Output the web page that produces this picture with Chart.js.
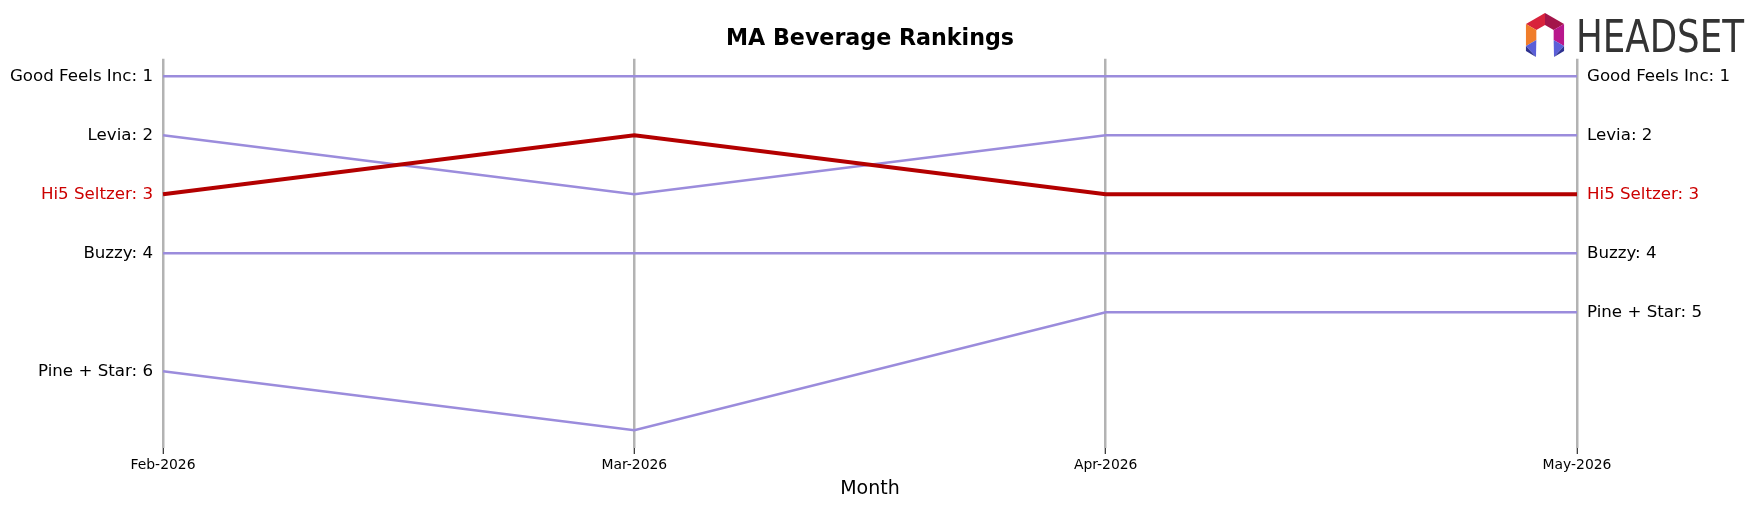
<!DOCTYPE html>
<html lang="en">
<head>
    <meta charset="UTF-8">
    <title>MA Beverage Rankings</title>
    <style>
        html, body { margin: 0; padding: 0; background: #fff; }
        #wrap { width: 1759px; height: 507px; position: relative; }
    </style>
</head>
<body>
    <div id="wrap"><canvas id="rankChart"></canvas></div>

    <script src="https://cdn.jsdelivr.net/npm/chart.js"></script>
    <script>
        // Months on the x axis
        const months = ['Feb-2026', 'Mar-2026', 'Apr-2026', 'May-2026'];

        // Brands and their monthly rank
        const brands = ['Good Feels Inc', 'Levia', 'Hi5 Seltzer', 'Buzzy', 'Pine + Star'];
        const goodFeelsRanks = [1, 1, 1, 1];
        const leviaRanks = [2, 3, 2, 2];
        const hi5Ranks = [3, 2, 3, 3];
        const buzzyRanks = [4, 4, 4, 4];
        const pineStarRanks = [6, 7, 5, 5];
        const rankSeries = [goodFeelsRanks, leviaRanks, hi5Ranks, buzzyRanks, pineStarRanks];

        const highlightBrand = 'Hi5 Seltzer';

        const purple = '#9b8cdc';
        const darkRed = '#b30000';
        const labelRed = '#cc0000';
        const font = "'DejaVu Sans', sans-serif";

        // find brand sitting at a given rank in a given month
        function brandAt(rank, monthIdx) {
            const i = rankSeries.findIndex(s => s[monthIdx] === rank);
            return i < 0 ? '' : brands[i];
        }

        function rankAxis(position, monthIdx, width) {
            return {
                position: position,
                reverse: true,
                min: 0.7,
                max: 7.3,
                grid: { display: false, drawTicks: false },
                border: { display: false },
                afterBuildTicks: (scale) => {
                    scale.ticks = rankSeries.map(s => ({ value: s[monthIdx] }));
                },
                afterFit: (scale) => { scale.width = width; },
                ticks: {
                    padding: 10,
                    font: { family: font, size: 16.67 },
                    color: (ctx) => brandAt(ctx.tick.value, monthIdx) === highlightBrand ? labelRed : '#000',
                    callback: (value) => brandAt(value, monthIdx) + ': ' + value
                }
            };
        }

        // draws the Headset logo top right
        const logoPlugin = {
            id: 'logo',
            afterDraw(chart) {
                const ctx = chart.ctx;
                const cx = 1545, cy = 35, R = 22, r = 10;
                const pt = (a, rad) => [cx + rad * Math.cos(a * Math.PI / 180), cy + rad * Math.sin(a * Math.PI / 180)];
                const quad = (a1, a2, color) => {
                    const p = [pt(a1, R), pt(a2, R), pt(a2, r), pt(a1, r)];
                    ctx.beginPath();
                    ctx.moveTo(p[0][0], p[0][1]);
                    p.slice(1).forEach(q => ctx.lineTo(q[0], q[1]));
                    ctx.closePath();
                    ctx.fillStyle = color;
                    ctx.fill();
                };
                ctx.save();
                quad(-150, -90, '#d8233c');
                quad(-90, -30, '#a3154a');
                quad(-30, 30, '#b8178c');
                quad(150, 210, '#f07d2a');
                // legs
                const leg = (a, dir, c1, c2) => {
                    const o = pt(a, R), i = pt(a, r);
                    const tipX = cx + dir * 9, tipY = cy + 22;
                    ctx.beginPath();
                    ctx.moveTo(o[0], o[1]); ctx.lineTo(i[0], i[1]); ctx.lineTo(tipX, tipY); ctx.closePath();
                    ctx.fillStyle = c1; ctx.fill();
                    ctx.beginPath();
                    ctx.moveTo(o[0], o[1]); ctx.lineTo(o[0], o[1] + 5); ctx.lineTo(tipX, tipY); ctx.closePath();
                    ctx.fillStyle = c2; ctx.fill();
                };
                leg(150, -1, '#5b5fd8', '#2d3190');
                leg(30, 1, '#5b5fd8', '#2d3190');

                ctx.fillStyle = '#333';
                ctx.textBaseline = 'alphabetic';
                ctx.textAlign = 'left';
                ctx.font = "44px 'Liberation Sans Narrow', 'DejaVu Sans Condensed', sans-serif";
                const w = ctx.measureText('HEADSET').width;
                ctx.translate(1576, 52);
                ctx.scale(168 / w, 1);
                ctx.fillText('HEADSET', 0, 0);
                ctx.restore();
            }
        };

        const datasets = brands.map((b, i) => ({
            label: b,
            data: rankSeries[i],
            borderColor: b === highlightBrand ? darkRed : purple,
            borderWidth: b === highlightBrand ? 4 : 2.5,
            pointRadius: 0,
            tension: 0,
            order: b === highlightBrand ? 0 : 1
        }));

        new Chart(document.getElementById('rankChart'), {
            type: 'line',
            data: { labels: months, datasets: datasets },
            plugins: [logoPlugin],
            options: {
                responsive: true,
                maintainAspectRatio: false,
                animation: false,
                layout: { padding: 0 },
                plugins: {
                    legend: { display: false },
                    tooltip: { enabled: false },
                    title: {
                        display: true,
                        text: 'MA Beverage Rankings',
                        fullSize: false,
                        color: '#000',
                        font: { family: font, size: 22.2, weight: 'bold' },
                        padding: { top: 26, bottom: 6 }
                    }
                },
                scales: {
                    x: {
                        z: 1,
                        offset: false,
                        grid: {
                            color: '#b3b3b3',
                            lineWidth: 2.5,
                            tickLength: 6,
                            tickColor: '#000',
                            tickWidth: 1
                        },
                        border: { display: false },
                        afterFit: (scale) => { scale.height = 59; },
                        ticks: {
                            padding: 3,
                            maxRotation: 0,
                            color: '#000',
                            font: { family: font, size: 13.9 }
                        },
                        title: {
                            display: true,
                            text: 'Month',
                            color: '#000',
                            font: { family: font, size: 19 },
                            padding: { top: 0, bottom: 7 }
                        }
                    },
                    y: rankAxis('left', 0, 163),
                    yRight: rankAxis('right', months.length - 1, 182)
                }
            }
        });
    </script>
</body>
</html>
